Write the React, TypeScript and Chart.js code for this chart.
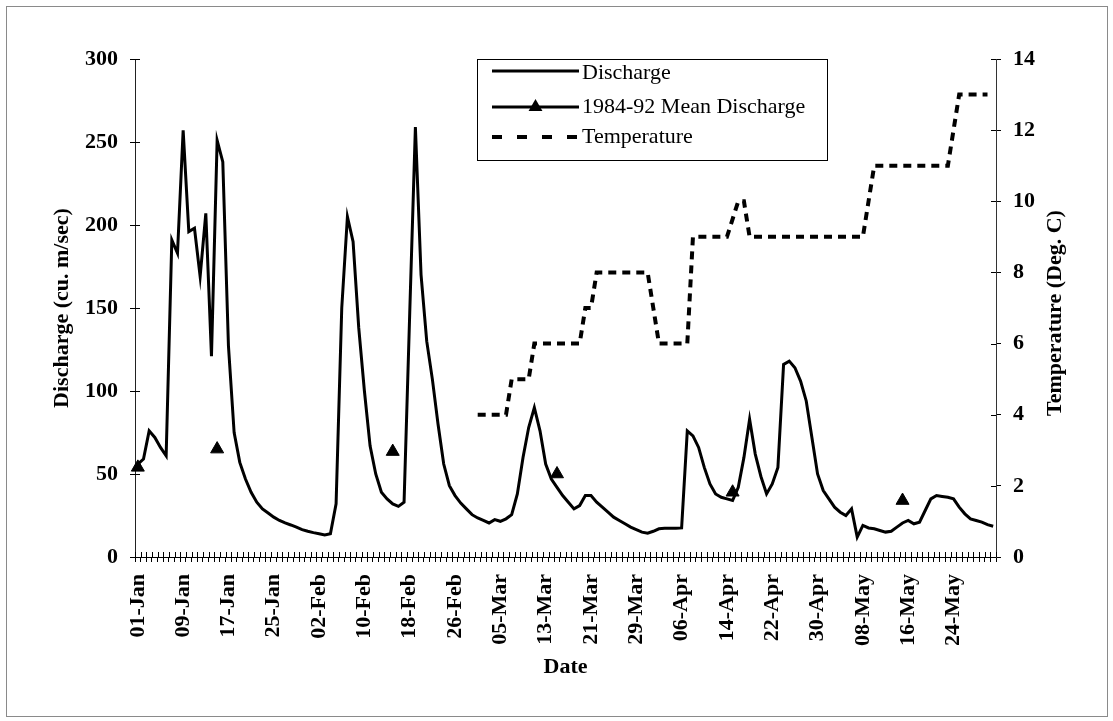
import React, { useEffect, useRef } from 'react';
import { Chart, registerables } from 'chart.js';

Chart.register(...registerables);

// ---------- data ----------
const MONTHS = ['Jan', 'Feb', 'Mar', 'Apr', 'May'];
const MONTH_DAYS = [31, 29, 31, 30, 31];
const CATEGORIES: string[] = MONTHS.flatMap((m, k) =>
  Array.from({ length: MONTH_DAYS[k] }, (_, d) => `${String(d + 1).padStart(2, '0')}-${m}`)
);

const TICK_LABELS = [
  '01-Jan', '09-Jan', '17-Jan', '25-Jan', '02-Feb', '10-Feb', '18-Feb', '26-Feb',
  '05-Mar', '13-Mar', '21-Mar', '29-Mar', '06-Apr', '14-Apr', '22-Apr', '30-Apr',
  '08-May', '16-May', '24-May',
];

// daily discharge, 01-Jan .. 31-May
const DISCHARGE = [
  56, 59, 76, 72, 66, 61, 191, 183, 257, 196,
  198, 169, 207, 121, 251, 238, 127, 75, 57, 47,
  39, 33, 29, 26.5, 24, 22, 20.5, 19.3, 18, 16.5,
  15.5, 14.7, 14, 13.3, 14, 32, 150, 205, 190, 138,
  100, 67, 50, 39, 35, 32, 30.5, 33, 147, 259,
  170, 130, 107, 80, 56, 43, 37, 32.5, 29, 25.5,
  23.5, 22, 20.5, 22.5, 21.5, 23, 25.5, 38, 60, 78,
  90, 76, 56, 47, 42, 37, 33, 29, 31, 37,
  37, 33, 30, 27, 24, 22, 20, 18, 16.5, 15,
  14.3, 15.5, 17, 17.3, 17.3, 17.3, 17.5, 76, 73, 66,
  54, 44, 38, 36, 35, 34, 42, 60, 83, 62,
  48.5, 38, 44, 54, 116, 118, 114, 106, 94, 72,
  50, 40, 35, 30, 27, 25, 29, 12, 19, 17.5,
  17, 16, 15, 15.5, 18, 20.5, 22, 20, 21, 28,
  35, 37, 36.5, 36, 35, 30, 26, 23, 22, 21,
  19.5, 18.5,
];

const MEAN_DATES = ['01-Jan', '15-Jan', '15-Feb', '15-Mar', '15-Apr', '15-May'];
const MEAN_DISCHARGE = [54, 65, 63.5, 50, 39, 34];

const TEMP_START = '01-Mar';
const TEMPERATURE = [
  4, 4, 4, 4, 4, 4, 5, 5, 5, 5,
  6, 6, 6, 6, 6, 6, 6, 6, 6, 7,
  7, 8, 8, 8, 8, 8, 8, 8, 8, 8,
  8, 7, 6, 6, 6, 6, 6, 6, 9, 9,
  9, 9, 9, 9, 9, 9.5, 10, 10, 9, 9,
  9, 9, 9, 9, 9, 9, 9, 9, 9, 9,
  9, 9, 9, 9, 9, 9, 9, 9, 9, 10,
  11, 11, 11, 11, 11, 11, 11, 11, 11, 11,
  11, 11, 11, 11, 12, 13, 13, 13, 13, 13,
  13,
];

// ---------- tables built from the arrays ----------
const meanSeries = CATEGORIES.map((c) => {
  const k = MEAN_DATES.indexOf(c);
  return k >= 0 ? MEAN_DISCHARGE[k] : null;
});
const tempOffset = CATEGORIES.indexOf(TEMP_START);
const tempSeries = CATEGORIES.map((_, i) => {
  const k = i - tempOffset;
  return k >= 0 && k < TEMPERATURE.length ? TEMPERATURE[k] : null;
});

const FONT = '"Liberation Serif", "Times New Roman", Times, serif';

const decorPlugin = {
  id: 'decor',
  afterDraw(chart: any) {
    const { ctx, chartArea, scales } = chart;
    ctx.save();
    // outer frame
    ctx.strokeStyle = '#8a8a8a';
    ctx.lineWidth = 1;
    ctx.strokeRect(6.5, 6.5, 1101, 710);

    // inner halves of the cross tick marks
    ctx.strokeStyle = '#000';
    ctx.beginPath();
    const xs = scales.x;
    const n = xs.ticks.length;
    const w = (xs.right - xs.left) / n;
    for (let k = 0; k <= n; k++) {
      const x = Math.round(xs.left + k * w) + 0.5;
      ctx.moveTo(x, chartArea.bottom);
      ctx.lineTo(x, chartArea.bottom - 5);
    }
    scales.y.ticks.forEach((t: any) => {
      const y = Math.round(scales.y.getPixelForValue(t.value)) + 0.5;
      ctx.moveTo(chartArea.left, y);
      ctx.lineTo(chartArea.left + 5, y);
    });
    scales.y1.ticks.forEach((t: any) => {
      const y = Math.round(scales.y1.getPixelForValue(t.value)) + 0.5;
      ctx.moveTo(chartArea.right, y);
      ctx.lineTo(chartArea.right - 5, y);
    });
    ctx.stroke();

    // right axis title (reads bottom to top)
    ctx.save();
    ctx.font = `bold 22px ${FONT}`;
    ctx.fillStyle = '#000';
    ctx.textAlign = 'center';
    ctx.textBaseline = 'middle';
    ctx.translate(1055, 313);
    ctx.rotate(-Math.PI / 2);
    ctx.fillText('Temperature (Deg. C)', 0, 0);
    ctx.restore();

    // legend box
    ctx.strokeStyle = '#000';
    ctx.lineWidth = 1;
    ctx.strokeRect(477.5, 59.5, 350, 101);
    const labels = chart.data.datasets.map((d: any) => d.label);
    const rows = [
      { ly: 71, by: 79 },
      { ly: 107, by: 113 },
      { ly: 137, by: 143 },
    ];
    const x0 = 492;
    const x1 = 579;
    // Discharge
    ctx.lineWidth = 3;
    ctx.beginPath();
    ctx.moveTo(x0, rows[0].ly);
    ctx.lineTo(x1, rows[0].ly);
    ctx.stroke();
    // Mean discharge
    ctx.beginPath();
    ctx.moveTo(x0, rows[1].ly);
    ctx.lineTo(x1, rows[1].ly);
    ctx.stroke();
    const cx = (x0 + x1) / 2;
    const r = 8;
    ctx.beginPath();
    ctx.moveTo(cx, rows[1].ly - r);
    ctx.lineTo(cx + r * 0.866, rows[1].ly + r / 2);
    ctx.lineTo(cx - r * 0.866, rows[1].ly + r / 2);
    ctx.closePath();
    ctx.fillStyle = '#000';
    ctx.fill();
    // Temperature
    ctx.lineWidth = 4;
    ctx.setLineDash([10, 15]);
    ctx.beginPath();
    ctx.moveTo(x0, rows[2].ly);
    ctx.lineTo(x1 + 1, rows[2].ly);
    ctx.stroke();
    ctx.setLineDash([]);
    ctx.font = `22px ${FONT}`;
    ctx.textAlign = 'left';
    ctx.textBaseline = 'alphabetic';
    labels.forEach((t: string, i: number) => ctx.fillText(t, 582, rows[i].by));
    ctx.restore();
  },
};

export default function App() {
  const ref = useRef<HTMLCanvasElement | null>(null);

  useEffect(() => {
    if (!ref.current) return;
    const tickFont = { family: FONT, size: 22, weight: 'bold' as const };
    const chart = new Chart(ref.current, {
      type: 'line',
      data: {
        labels: CATEGORIES,
        datasets: [
          {
            label: 'Discharge',
            data: DISCHARGE,
            borderColor: '#000',
            backgroundColor: '#000',
            borderWidth: 3,
            pointRadius: 0,
            tension: 0,
            yAxisID: 'y',
          },
          {
            label: '1984-92 Mean Discharge',
            data: meanSeries,
            borderColor: '#000',
            backgroundColor: '#000',
            borderWidth: 3,
            pointStyle: 'triangle',
            pointRadius: 7.5,
            pointBorderWidth: 1,
            pointBackgroundColor: '#000',
            pointBorderColor: '#000',
            spanGaps: false,
            yAxisID: 'y',
          },
          {
            label: 'Temperature',
            data: tempSeries,
            borderColor: '#000',
            backgroundColor: '#000',
            borderWidth: 4,
            borderDash: [8, 6],
            borderCapStyle: 'butt',
            pointRadius: 0,
            tension: 0,
            spanGaps: false,
            yAxisID: 'y1',
          },
        ],
      },
      options: {
        responsive: false,
        animation: false,
        events: [],
        layout: { padding: { top: 59, left: 0, right: 0, bottom: 0 } },
        plugins: {
          legend: { display: false },
          tooltip: { enabled: false },
        },
        scales: {
          x: {
            type: 'category',
            offset: true,
            grid: {
              offset: true,
              drawOnChartArea: false,
              drawTicks: true,
              tickLength: 5,
              tickColor: '#000',
              color: '#000',
            },
            border: { display: true, color: '#000', width: 1 },
            ticks: {
              autoSkip: false,
              minRotation: 90,
              maxRotation: 90,
              padding: 12,
              color: '#000',
              font: tickFont,
              callback: (_v: any, index: number) => {
                const lab = CATEGORIES[index];
                return TICK_LABELS.includes(lab) ? lab : '';
              },
            },
            title: {
              display: true,
              text: 'Date',
              color: '#000',
              font: { family: FONT, size: 22, weight: 'bold' },
              padding: { top: 0, bottom: 40 },
            },
            afterFit: (s: any) => {
              s.height = 164;
            },
          },
          y: {
            type: 'linear',
            position: 'left',
            min: 0,
            max: 300,
            ticks: { stepSize: 50, padding: 12, color: '#000', font: tickFont },
            grid: {
              drawOnChartArea: false,
              tickLength: 5,
              tickColor: '#000',
              color: '#000',
            },
            border: { display: true, color: '#222', width: 1 },
            title: {
              display: true,
              text: 'Discharge (cu. m/sec)',
              color: '#000',
              font: { family: FONT, size: 22, weight: 'bold' },
              padding: { top: 49, bottom: 0 },
            },
            afterFit: (s: any) => {
              s.width = 135;
            },
          },
          y1: {
            type: 'linear',
            position: 'right',
            min: 0,
            max: 14,
            ticks: { stepSize: 2, padding: 12, color: '#000', font: tickFont },
            grid: {
              drawOnChartArea: false,
              tickLength: 5,
              tickColor: '#000',
              color: '#000',
            },
            border: { display: true, color: '#333', width: 1 },
            afterFit: (s: any) => {
              s.width = 117;
            },
          },
        },
      },
      plugins: [decorPlugin],
    } as any);
    return () => chart.destroy();
  }, []);

  return (
    <div style={{ position: 'absolute', left: 0, top: 0, width: 1113, height: 721, background: '#fff' }}>
      <canvas ref={ref} width={1113} height={721} style={{ display: 'block' }} />
    </div>
  );
}
